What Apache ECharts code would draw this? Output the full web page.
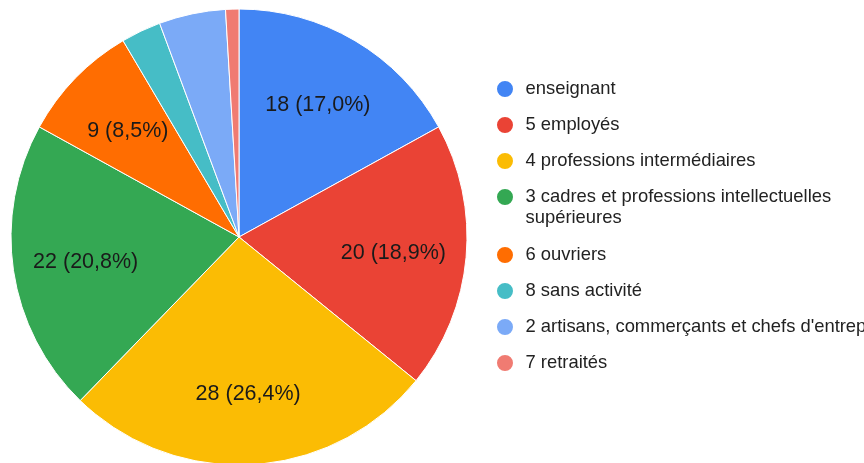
<!DOCTYPE html>
<html>
<head>
<meta charset="utf-8">
<title></title>
<script src="https://cdn.jsdelivr.net/npm/echarts@6/dist/echarts.min.js"></script>
<style>
  html, body { margin: 0; padding: 0; background: #fff; }
  #main { width: 864px; height: 463px; }
</style>
</head>
<body>
<div id="main"></div>
<script>
  var categories = ['enseignant', '5 employés', '4 professions intermédiaires',
    '3 cadres et professions intellectuelles supérieures', '6 ouvriers',
    '8 sans activité', "2 artisans, commerçants et chefs d'entreprise", '7 retraités'];
  var values = [18, 20, 28, 22, 9, 3, 5, 1];
  var colors = ['#4285f4', '#ea4335', '#fbbc04', '#34a853', '#ff6d01', '#46bdc6', '#7baaf7', '#f07b72'];

  var total = values.reduce(function (a, b) { return a + b; }, 0);
  var data = categories.map(function (name, i) {
    // petites parts sans étiquette, comme dans l'original
    var show = values[i] / total > 0.05;
    return { name: name, value: values[i], label: { show: show } };
  });

  function fmt(p) {
    return p.value + ' (' + (p.value / total * 100).toFixed(1).replace('.', ',') + '%)';
  }

  var legendBase = {
    orient: 'vertical',
    left: 495,
    padding: 0,
    icon: 'circle',
    itemWidth: 31,
    itemHeight: 18,
    itemGap: 15,
    selectedMode: false,
    textStyle: { fontFamily: 'Liberation Sans, Arial', fontSize: 18.4, lineHeight: 21, color: '#222' }
  };

  var chart = echarts.init(document.getElementById('main'));
  chart.setOption({
    animation: false,
    color: colors,
    legend: [
      Object.assign({}, legendBase, { top: 78.5, data: categories.slice(0, 3) }),
      Object.assign({}, legendBase, {
        top: 165.5, data: [categories[3]],
        formatter: function () { return '\n3 cadres et professions intellectuelles\nsupérieures'; }
      }),
      Object.assign({}, legendBase, { top: 244.5, data: categories.slice(4) })
    ],
    series: [
      {
        type: 'pie',
        center: [239, 237],
        radius: [0, 228],
        startAngle: 90,
        silent: true,
        itemStyle: { borderColor: '#fff', borderWidth: 1 },
        label: { show: false },
        labelLine: { show: false },
        data: data.map(function (d) { return { name: d.name, value: d.value }; })
      },
      {
        type: 'pie',
        center: [239, 237],
        radius: [76, 228],
        startAngle: 90,
        silent: true,
        itemStyle: { color: 'rgba(0,0,0,0)' },
        label: {
          position: 'inside',
          formatter: fmt,
          fontFamily: 'Liberation Sans, Arial',
          fontSize: 21.5,
          color: '#1a1a1a',
          offset: [0, 2]
        },
        labelLine: { show: false },
        data: data
      }
    ]
  });
</script>
</body>
</html>
